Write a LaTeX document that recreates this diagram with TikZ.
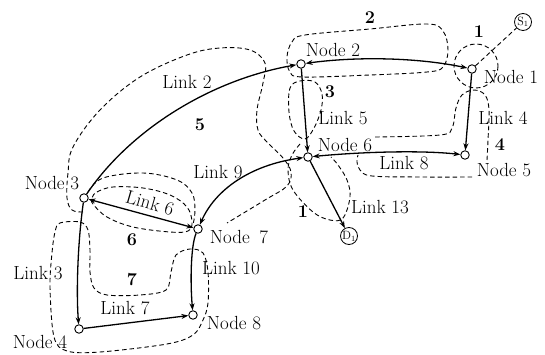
\documentclass[tikz,border=0pt]{standalone}
\usetikzlibrary{arrows.meta}
\begin{document}
\begin{tikzpicture}[x=1pt,y=-1pt,
  vtx/.style={circle,draw,fill=white,line width=0.9pt,minimum size=8.5pt,inner sep=0pt},
  term/.style={circle,draw,line width=0.8pt,minimum size=17pt,inner sep=0pt,font=\fontsize{12}{13}\selectfont},
  link/.style={line width=1.3pt,-{Stealth[length=7pt,width=5pt]}},
  blink/.style={line width=1.3pt,{Stealth[length=7pt,width=5pt]}-{Stealth[length=7pt,width=5pt]}},
  zone/.style={dash pattern=on 4.5pt off 3pt,line width=0.9pt},
  lbl/.style={font=\fontsize{19}{21}\selectfont,inner sep=1pt},
  num/.style={font=\bfseries\fontsize{18}{20}\selectfont,inner sep=1pt}]
\useasboundingbox (0,0) rectangle (545,355);

% zones (dashed)
% zone 1 round node 1
\draw[zone] (476,66) circle (22);
% zone 2
\draw[zone] plot[smooth cycle,tension=0.6] coordinates {(287,57) (292,42) (305,35) (370,29) (427,24) (443,31) (448,50) (443,67) (427,72) (370,75) (303,77) (290,72)};
% zone 3
\draw[zone] plot[smooth cycle,tension=0.6] coordinates {(290,88) (300,81) (315,82) (322,94) (321,110) (314,128) (305,139) (294,131) (289,112)};
% zone 4
\draw[zone] plot[smooth,tension=0.6] coordinates {(375,137) (440,135) (452,128) (456,108) (462,95) (474,90) (485,95) (489,110) (488,140) (487,160)};
\draw[zone] plot[smooth,tension=0.6] coordinates {(472,177) (420,177) (372,176) (360,170) (357,162) (358,155)};
% zone 5
\draw[zone] plot[smooth,tension=0.6] coordinates {(83,212) (72,210) (67,198) (68,173) (73,147) (100,110) (140,77) (187,55) (220,48) (250,50) (265,63) (263,83) (257,110) (258,130) (267,142) (283,158) (291,172) (287,186) (265,200) (227,223)};
% zone 6 and the arc above it
\draw[zone] plot[smooth cycle,tension=0.6] coordinates {(92,198) (97,192) (113,187) (143,188) (170,195) (187,207) (192,222) (188,231) (170,232) (133,227) (107,217) (93,204)};
\draw[zone] plot[smooth,tension=0.6] coordinates {(88,192) (103,178) (143,173) (177,180) (192,193) (195,210) (193,225)};
% zone 7
\draw[zone] plot[smooth cycle,tension=0.55] coordinates {(60,223) (80,222) (88,230) (90,250) (90,272) (94,288) (107,295) (140,295) (166,290) (171,272) (176,255) (190,249) (203,253) (208,272) (208,303) (203,320) (193,335) (167,344) (100,352) (67,351) (54,337) (50,287) (52,253) (55,232)};
% zone 1 round link 13
\draw[zone] plot[smooth,tension=0.6] coordinates {(300,144) (292,155) (288,170) (293,190) (313,212) (330,220) (343,218) (350,197) (347,180) (338,165) (331,157)};

% vertices
\node[vtx] (n1) at (472,69) {};
\node[vtx] (n2) at (301,64) {};
\node[vtx] (n3) at (84,198) {};
\node[vtx] (n4) at (79,329) {};
\node[vtx] (n5) at (465,155) {};
\node[vtx] (n6) at (308,157) {};
\node[vtx] (n7) at (198,229) {};
\node[vtx] (n8) at (193,315) {};
\node[term,fill=white] (s1) at (523,22) {$\mathrm{S}_1$};
\node[term,fill=white] (d1) at (349,236) {$\mathrm{D}_1$};

% links
\draw[blink] (n2) .. controls (360,56) and (420,58) .. (n1);
\draw[link] (n3) .. controls (130,130) and (210,80) .. (n2);
\draw[link] (n1) -- (n5);
\draw[link] (n2) -- (n6);
\draw[blink] (n6) .. controls (360,152) and (420,150) .. (n5);
\draw[blink] (n6) .. controls (250,165) and (215,190) .. (n7);
\draw[blink] (n3) -- (n7);
\draw[link] (n3) .. controls (78,240) and (76,290) .. (n4);
\draw[link] (n7) .. controls (191,245) and (190,280) .. (n8);
\draw[link] (n4) -- (n8);
\draw[link] (n6) -- (d1);
\draw[zone] (n1) -- (s1);

% vertex labels
\node[lbl] (t1) at (511,77) {Node 1};
\node[lbl] (t2) at (333,50) {Node 2};
\node[lbl] (t3) at (52,183) {Node 3};
\node[lbl] (t4) at (40,342) {Node 4};
\node[lbl] (t5) at (504,170) {Node 5};
\node[lbl] (t6) at (345,145) {Node 6};
\node[lbl] (t7) at (239,237) {Node\enspace7};
\node[lbl] (t8) at (234,323) {Node 8};

% link labels
\node[lbl] (l2) at (187,82) {Link 2};
\node[lbl] (l3) at (38,273) {Link 3};
\node[lbl] (l4) at (503,118) {Link 4};
\node[lbl] (l5) at (343,118) {Link 5};
\node[lbl,rotate=-16,inner sep=0pt] (l6) at (150,203) {Link 6};
\node[lbl] (l7) at (125,308) {Link 7};
\node[lbl] (l8) at (404,163) {Link 8};
\node[lbl] (l9) at (218,172) {Link 9};
\node[lbl] (l10) at (231,268) {Link 10};
\node[lbl] (l13) at (380,207) {Link 13};

% zone numbers
\node[num] (z1a) at (479,32) {1};
\node[num] (z2) at (370,18) {2};
\node[num] (z3) at (330,92) {3};
\node[num] (z4) at (500,145) {4};
\node[num] (z5) at (200,125) {5};
\node[num] (z6) at (132,240) {6};
\node[num] (z7) at (132,280) {7};
\node[num] (z1b) at (303,212) {1};
\end{tikzpicture}
\end{document}
